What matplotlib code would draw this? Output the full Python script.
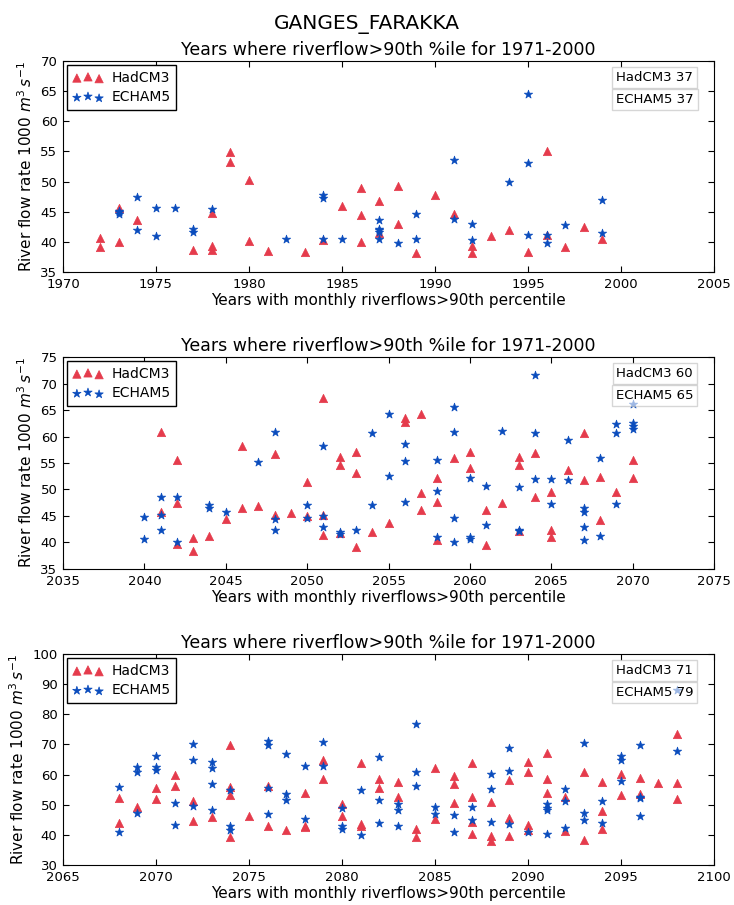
import numpy as np
import matplotlib
matplotlib.use('Agg')
import matplotlib.pyplot as plt

# ---- data: years and flows (1000 m3/s) ----
had1_yr = [1972, 1972, 1973, 1973, 1974, 1977, 1978, 1978, 1978, 1979, 1979, 1980, 1980,
           1981, 1983, 1984, 1985, 1986, 1986, 1986, 1987, 1987, 1988, 1988, 1989, 1990,
           1991, 1992, 1992, 1993, 1994, 1995, 1996, 1996, 1997, 1998, 1999]
had1_val = [40.6, 39.2, 45.7, 40.0, 43.6, 38.7, 39.4, 38.7, 44.8, 54.9, 53.3, 50.3, 40.1,
            38.5, 38.4, 40.3, 45.9, 49.0, 44.5, 39.9, 46.7, 41.5, 49.3, 43.0, 38.1, 47.7,
            44.6, 39.3, 38.2, 41.0, 41.9, 38.4, 55.1, 41.2, 39.2, 42.4, 40.5]
ech1_yr = [1973, 1973, 1973, 1974, 1974, 1975, 1975, 1976, 1977, 1977, 1978, 1982,
           1984, 1984, 1984, 1985, 1987, 1987, 1987, 1987, 1987, 1988, 1989, 1989,
           1991, 1991, 1992, 1992, 1994, 1995, 1995, 1995, 1996, 1996, 1997, 1999, 1999]
ech1_val = [45.2, 44.6, 45.0, 47.5, 42.0, 45.6, 41.0, 45.7, 42.1, 41.6, 45.4, 40.5,
            47.8, 47.2, 40.5, 40.5, 43.7, 42.2, 41.6, 40.4, 41.9, 39.8, 44.7, 40.5,
            53.5, 43.8, 43.0, 40.3, 49.9, 64.6, 53.1, 41.2, 41.1, 39.8, 42.8, 46.9, 41.4]

had2_yr = [2041, 2041, 2042, 2042, 2042, 2043, 2043, 2044, 2045, 2046, 2046, 2047, 2048,
           2048, 2049, 2050, 2050, 2051, 2051, 2051, 2052, 2052, 2052, 2053, 2053, 2053,
           2054, 2055, 2056, 2056, 2057, 2057, 2057, 2058, 2058, 2058, 2059, 2060, 2060,
           2061, 2061, 2062, 2063, 2063, 2063, 2064, 2064, 2065, 2065, 2065, 2066, 2067,
           2067, 2068, 2068, 2069, 2070, 2070]
had2_val = [60.8, 45.7, 55.6, 47.4, 39.7, 40.8, 38.3, 41.3, 44.5, 58.3, 46.6, 46.8, 56.7,
            45.2, 45.5, 51.4, 45.0, 67.3, 45.1, 41.4, 56.2, 54.6, 41.7, 57.0, 53.2, 39.1,
            41.9, 43.6, 63.4, 62.7, 64.2, 49.4, 46.1, 52.2, 47.7, 40.4, 56.0, 57.0, 54.1,
            46.1, 39.5, 47.4, 56.1, 54.6, 42.1, 56.8, 48.6, 49.6, 42.4, 41.0, 53.6, 60.6,
            51.7, 52.4, 44.3, 49.5, 55.6, 52.2]
ech2_yr = [2040, 2040, 2041, 2041, 2041, 2042, 2042, 2044, 2044, 2045, 2047, 2048, 2048,
           2048, 2050, 2050, 2051, 2051, 2051, 2052, 2052, 2053, 2054, 2054, 2055, 2055,
           2056, 2056, 2056, 2058, 2058, 2058, 2059, 2059, 2059, 2059, 2060, 2060, 2060,
           2061, 2061, 2062, 2063, 2063, 2063, 2064, 2064, 2064, 2065, 2065, 2066, 2066,
           2067, 2067, 2067, 2067, 2068, 2068, 2069, 2069, 2069, 2070, 2070, 2070, 2070]
ech2_val = [44.9, 40.6, 48.6, 45.1, 42.3, 48.6, 40.1, 47.1, 46.6, 45.8, 55.2, 60.9, 44.4,
            42.4, 47.1, 44.6, 58.3, 45.0, 43.0, 41.9, 41.6, 42.3, 60.6, 47.1, 64.2, 52.5,
            58.6, 55.4, 47.6, 55.5, 49.7, 41.1, 65.5, 60.8, 44.6, 40.0, 52.2, 41.1, 40.7,
            50.7, 43.3, 61.1, 50.5, 42.4, 42.1, 71.6, 60.7, 51.9, 51.9, 47.2, 59.4, 51.8,
            46.5, 45.8, 43.0, 40.5, 56.0, 41.3, 62.3, 60.7, 47.3, 66.1, 62.5, 61.9, 61.4]

had3_yr = [2068, 2068, 2069, 2070, 2070, 2071, 2071, 2072, 2072, 2073, 2074, 2074, 2074,
           2074, 2075, 2076, 2076, 2077, 2078, 2078, 2078, 2079, 2079, 2080, 2080, 2081,
           2081, 2081, 2082, 2082, 2083, 2083, 2084, 2084, 2085, 2085, 2086, 2086, 2086,
           2087, 2087, 2087, 2087, 2088, 2088, 2088, 2089, 2089, 2089, 2090, 2090, 2090,
           2090, 2091, 2091, 2091, 2092, 2092, 2093, 2093, 2094, 2094, 2094, 2095, 2095,
           2096, 2096, 2097, 2098, 2098, 2098]
had3_val = [52.2, 44.1, 49.2, 55.5, 52.0, 59.9, 56.3, 51.4, 44.6, 45.8, 69.9, 55.8, 53.3,
            39.2, 46.1, 56.2, 43.1, 41.7, 53.9, 42.8, 42.6, 64.9, 58.7, 50.4, 46.1, 63.9,
            43.5, 43.0, 58.6, 55.5, 57.5, 52.5, 42.0, 39.4, 62.3, 45.3, 59.6, 56.9, 50.7,
            63.7, 52.5, 44.2, 40.2, 50.8, 39.7, 38.0, 58.3, 45.5, 39.7, 64.3, 60.8, 43.3,
            41.7, 67.2, 58.4, 54.0, 52.7, 41.4, 60.7, 38.2, 57.4, 48.0, 42.0, 60.2, 53.1,
            59.0, 53.6, 57.1, 73.6, 57.1, 51.8]
ech3_yr = [2068, 2068, 2069, 2069, 2069, 2070, 2070, 2070, 2071, 2071, 2072, 2072, 2072,
           2073, 2073, 2073, 2073, 2074, 2074, 2074, 2076, 2076, 2076, 2076, 2077, 2077,
           2077, 2078, 2078, 2079, 2079, 2080, 2080, 2080, 2081, 2081, 2082, 2082, 2082,
           2083, 2083, 2083, 2084, 2084, 2084, 2085, 2085, 2086, 2086, 2087, 2087, 2088,
           2088, 2088, 2089, 2089, 2089, 2090, 2091, 2091, 2091, 2091, 2092, 2092, 2092,
           2093, 2093, 2093, 2094, 2094, 2095, 2095, 2095, 2096, 2096, 2096, 2096, 2098, 2098]
ech3_val = [55.8, 41.1, 62.5, 60.7, 47.1, 66.1, 62.5, 61.4, 50.7, 43.2, 70.1, 65.0, 49.5,
            64.3, 62.3, 56.8, 48.2, 55.0, 43.0, 41.7, 71.0, 69.9, 55.7, 47.0, 66.9, 53.5,
            51.6, 62.9, 45.1, 70.9, 62.8, 48.9, 42.8, 41.9, 55.0, 39.9, 66.0, 51.6, 43.8,
            50.2, 48.3, 43.0, 76.7, 60.7, 56.2, 49.4, 46.9, 46.6, 41.1, 49.1, 45.0, 60.1,
            55.2, 44.4, 68.8, 61.1, 43.5, 41.1, 50.3, 48.8, 48.3, 40.3, 55.3, 51.3, 42.2,
            70.4, 47.2, 45.0, 51.2, 43.9, 66.3, 64.9, 57.9, 69.9, 52.7, 52.2, 46.1, 88.1, 67.9]

xlims = [(1970, 2005), (2035, 2075), (2065, 2100)]
ylims = [(35, 70), (35, 75), (30, 100)]
counts = [(37, 37), (60, 65), (71, 79)]

red = '#e53b4c'
blue = '#0a4cbd'

plt.rcParams['font.family'] = 'DejaVu Sans'
fig = plt.figure(figsize=(7.34, 9.05), dpi=100)
fig.suptitle('GANGES_FARAKKA', fontsize=14.5, y=0.983)

axes_pos = [[0.0858, 0.6994, 0.8870, 0.2332],
            [0.0858, 0.3713, 0.8870, 0.2342],
            [0.0858, 0.0442, 0.8870, 0.2331]]

data = [(had1_yr, had1_val, ech1_yr, ech1_val),
        (had2_yr, had2_val, ech2_yr, ech2_val),
        (had3_yr, had3_val, ech3_yr, ech3_val)]

for i in range(3):
    ax = fig.add_axes(axes_pos[i])
    hy, hv, ey, ev = data[i]
    ax.scatter(hy, hv, marker='^', s=36, c=red, edgecolors=red, linewidths=0.5, label='HadCM3')
    ax.scatter(ey, ev, marker='*', s=40, c=blue, edgecolors=blue, linewidths=0.5, label='ECHAM5')
    ax.set_xlim(*xlims[i])
    ax.set_ylim(*ylims[i])
    ax.xaxis.set_ticks_position('both')
    ax.yaxis.set_ticks_position('both')
    ax.tick_params(direction='in', length=4, labelsize=9.5, pad=4)
    ax.set_title('Years where riverflow>90th %ile for 1971-2000', fontsize=12.5, pad=4)
    ax.set_xlabel('Years with monthly riverflows>90th percentile', fontsize=11, labelpad=2)
    ax.set_ylabel('River flow rate 1000 $m^3\\,s^{-1}$', fontsize=11, labelpad=4)
    leg = ax.legend(loc='upper left', scatterpoints=3, fancybox=False, fontsize=10,
                    borderaxespad=0.3, handletextpad=0.6, handlelength=2.2,
                    labelspacing=0.4, framealpha=1)
    leg.get_frame().set_edgecolor('black')
    bb = dict(boxstyle='square,pad=0.3', facecolor='white', edgecolor='#bbbbbb', alpha=0.6)
    ax.text(0.909, 0.922, 'HadCM3 %d' % counts[i][0], transform=ax.transAxes,
            ha='center', va='center', fontsize=9.5, bbox=bb, zorder=5)
    ax.text(0.909, 0.818, 'ECHAM5 %d' % counts[i][1], transform=ax.transAxes,
            ha='center', va='center', fontsize=9.5, bbox=bb, zorder=5)

fig.savefig('out.png', dpi=100)
